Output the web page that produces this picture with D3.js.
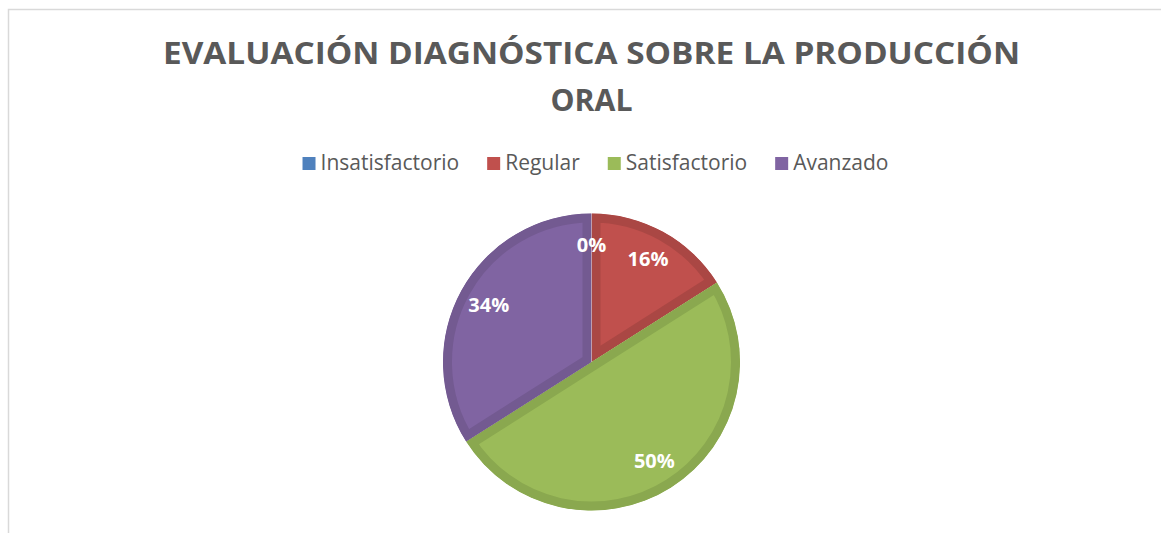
<!DOCTYPE html>
<html>
<head>
<meta charset="utf-8">
<script src="https://cdn.jsdelivr.net/npm/d3@7"></script>
<style>
  body { margin: 0; background: #fff; }
  svg { display: block; font-family: "Open Sans", "Noto Sans", sans-serif; }
</style>
</head>
<body>
<div id="chart"></div>
<script>
const categories = ['Insatisfactorio', 'Regular', 'Satisfactorio', 'Avanzado'];
const values = [0, 16, 50, 34];
const labels = ['0%', '16%', '50%', '34%'];
const titleLines = ['EVALUACIÓN DIAGNÓSTICA SOBRE LA PRODUCCIÓN', 'ORAL'];
const fills = ['#4f81bd', '#c0504d', '#9bbb59', '#8064a2'];
const borders = ['#46729f', '#aa4744', '#8aa84f', '#735a91'];

const width = 1161;
const height = 533;
const cx = 591.5, cy = 362, radius = 148.5;

const svg = d3.select('#chart')
    .append('svg')
    .attr('width', width)
    .attr('height', height);

// chart area frame (only top and left edges show in the crop)
svg.append('path')
    .attr('d', `M8.5,${height} V9.5 H${width}`)
    .attr('fill', 'none')
    .attr('stroke', '#d9d9d9')
    .attr('stroke-width', 1.5);

// title
svg.append('g')
    .selectAll('text')
    .data(titleLines)
    .join('text')
    .attr('x', cx)
    .attr('y', (d, i) => 64 + i * 47)
    .attr('text-anchor', 'middle')
    .attr('font-size', 31)
    .attr('font-weight', 700)
    .attr('fill', '#595959')
    .attr('textLength', (d, i) => i === 0 ? 857 : 82)
    .attr('lengthAdjust', 'spacingAndGlyphs')
    .text(d => d);

// legend
const legend = svg.append('g');
const items = legend.selectAll('g')
    .data(categories)
    .join('g');
items.append('rect')
    .attr('width', 13)
    .attr('height', 13)
    .attr('y', -13)
    .attr('fill', (d, i) => fills[i]);
items.append('text')
    .attr('x', 18)
    .attr('y', 0)
    .attr('font-size', 21)
    .attr('fill', '#595959')
    .text(d => d);

let offset = 0;
items.each(function () {
    const w = this.querySelector('text').getComputedTextLength();
    d3.select(this).attr('transform', `translate(${offset},0)`);
    offset += 18 + w + 28;
});
const legendWidth = offset - 28;
legend.attr('transform', `translate(${cx + 4 - legendWidth / 2},170)`);

// pie
const pie = d3.pie()
    .sort(null)
    .startAngle(0)
    .endAngle(2 * Math.PI);
const arcs = pie(values);

const arc = d3.arc()
    .innerRadius(0)
    .outerRadius(radius);

const labelArc = d3.arc()
    .innerRadius(radius * 0.79)
    .outerRadius(radius * 0.79);

const pieG = svg.append('g')
    .attr('transform', `translate(${cx},${cy})`);

const defs = svg.append('defs');
defs.selectAll('clipPath')
    .data(arcs)
    .join('clipPath')
    .attr('id', (d, i) => 'slice-' + i)
    .append('path')
    .attr('d', arc);

// inner border: double-width stroke clipped to the slice itself
pieG.selectAll('path')
    .data(arcs)
    .join('path')
    .attr('d', arc)
    .attr('fill', (d, i) => fills[i])
    .attr('stroke', (d, i) => borders[i])
    .attr('stroke-width', 18)
    .attr('stroke-linejoin', 'miter')
    .attr('clip-path', (d, i) => `url(#slice-${i})`);

pieG.selectAll('text')
    .data(arcs)
    .join('text')
    .attr('transform', d => `translate(${labelArc.centroid(d)})`)
    .attr('text-anchor', 'middle')
    .attr('dy', '0.35em')
    .attr('font-size', 20)
    .attr('font-weight', 700)
    .attr('fill', '#fff')
    .text((d, i) => labels[i]);
</script>
</body>
</html>
